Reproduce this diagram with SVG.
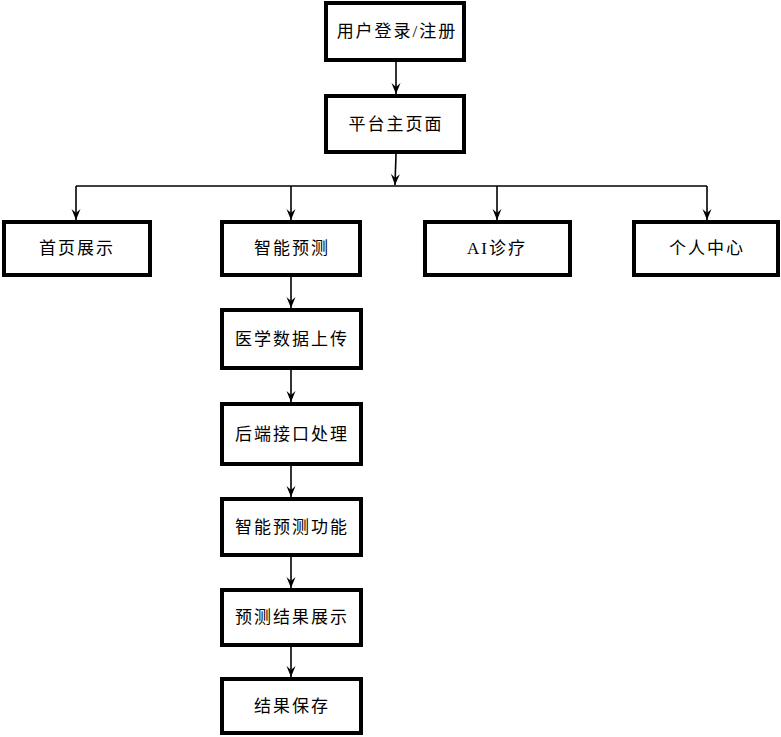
<svg xmlns="http://www.w3.org/2000/svg" width="781" height="737" viewBox="0 0 781 737">
<style>
.box{fill:#fff;stroke:#000;stroke-width:4}
.t{font-family:"Liberation Serif","Noto Sans CJK SC",serif;font-size:17px;letter-spacing:2px;fill:#000;text-anchor:middle;dominant-baseline:central}
.c{fill:none;stroke:#000;stroke-width:1.6}
</style>
<defs>
<marker id="ah" markerUnits="userSpaceOnUse" markerWidth="11" markerHeight="10" viewBox="0 0 11 10" refX="11" refY="5" orient="auto" overflow="visible">
<path d="M0,0.5 L11,5 L0,9.5 L4,5 Z" fill="#000"/>
</marker>
</defs>
<rect width="781" height="737" fill="#fff"/>
<g id="connectors">
<line class="c" x1="396" y1="62" x2="396" y2="94" marker-end="url(#ah)"/>
<line class="c" x1="396" y1="154" x2="395" y2="185" marker-end="url(#ah)"/>
<polyline class="c" points="76,186 707,186"/>
<line class="c" x1="76" y1="186" x2="76" y2="220" marker-end="url(#ah)"/>
<line class="c" x1="291" y1="186" x2="291" y2="220" marker-end="url(#ah)"/>
<line class="c" x1="497" y1="186" x2="497" y2="220" marker-end="url(#ah)"/>
<line class="c" x1="707" y1="186" x2="707" y2="220" marker-end="url(#ah)"/>
<line class="c" x1="291" y1="277" x2="291" y2="308" marker-end="url(#ah)"/>
<line class="c" x1="291" y1="370" x2="291" y2="402" marker-end="url(#ah)"/>
<line class="c" x1="291" y1="466" x2="291" y2="497" marker-end="url(#ah)"/>
<line class="c" x1="291" y1="557" x2="291" y2="588" marker-end="url(#ah)"/>
<line class="c" x1="291" y1="647" x2="291" y2="677" marker-end="url(#ah)"/>
</g>
<g id="n-login"><rect class="box" x="326" y="3" width="138" height="57"/><text class="t" x="397" y="31">用户登录/注册</text></g>
<g id="n-main"><rect class="box" x="326" y="96" width="138" height="56"/><text class="t" x="396" y="124">平台主页面</text></g>
<g id="n-home"><rect class="box" x="4" y="222" width="146" height="53"/><text class="t" x="77" y="248">首页展示</text></g>
<g id="n-predict"><rect class="box" x="222" y="222" width="138" height="53"/><text class="t" x="292" y="248">智能预测</text></g>
<g id="n-ai"><rect class="box" x="425" y="222" width="145" height="53"/><text class="t" x="497" y="248">AI诊疗</text></g>
<g id="n-user"><rect class="box" x="634" y="222" width="144" height="53"/><text class="t" x="707" y="248">个人中心</text></g>
<g id="n-upload"><rect class="box" x="222" y="310" width="139" height="58"/><text class="t" x="292" y="339">医学数据上传</text></g>
<g id="n-backend"><rect class="box" x="222" y="404" width="139" height="60"/><text class="t" x="292" y="434">后端接口处理</text></g>
<g id="n-func"><rect class="box" x="222" y="499" width="139" height="56"/><text class="t" x="292" y="527">智能预测功能</text></g>
<g id="n-show"><rect class="box" x="222" y="590" width="139" height="55"/><text class="t" x="292" y="617">预测结果展示</text></g>
<g id="n-save"><rect class="box" x="222" y="679" width="139" height="54"/><text class="t" x="292" y="706">结果保存</text></g>
</svg>
